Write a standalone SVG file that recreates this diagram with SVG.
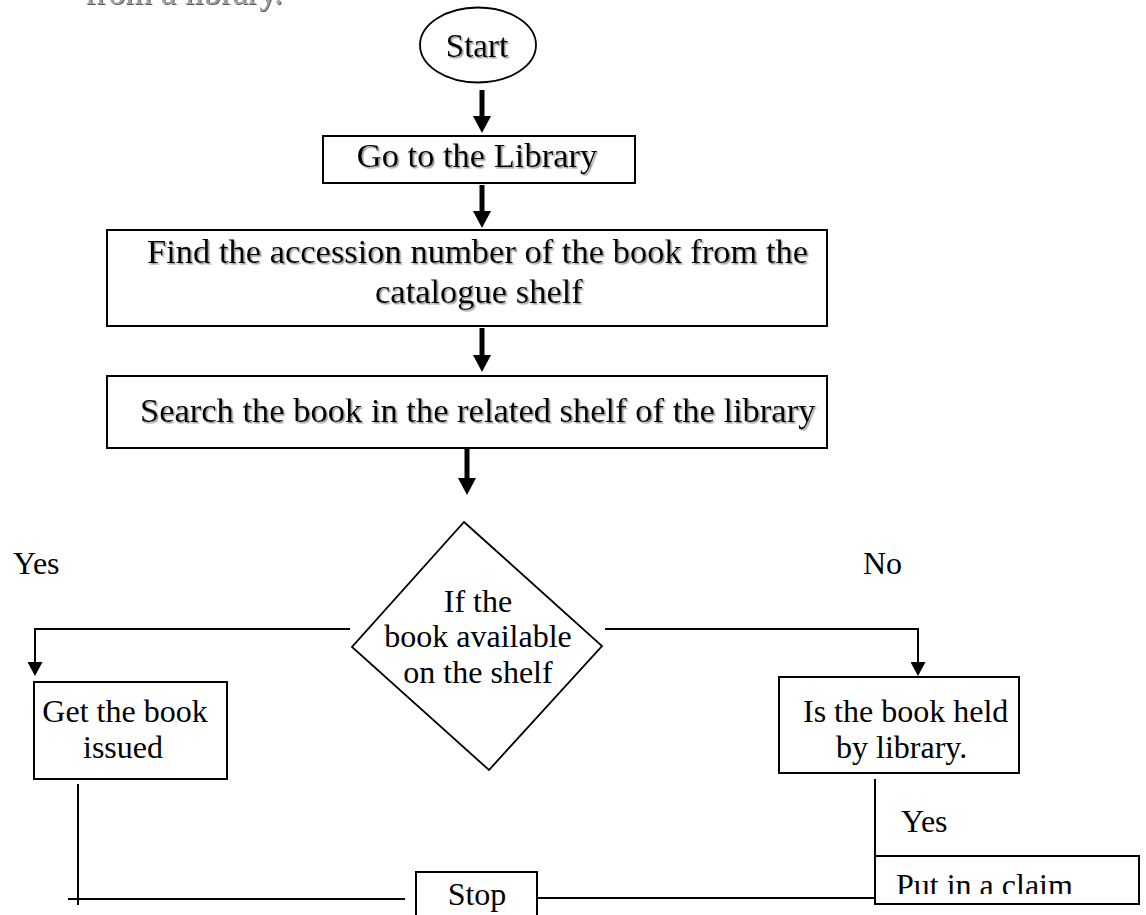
<svg xmlns="http://www.w3.org/2000/svg" width="1146" height="915" viewBox="0 0 1146 915">
<style>
.t{font-family:"Liberation Serif","Times New Roman",serif;fill:#000}
.big{font-size:34.5px}
.sm{font-size:32px}
.box{fill:#fff;stroke:#000;stroke-width:2}
.ln{fill:none;stroke:#000;stroke-width:2}
.thick{fill:none;stroke:#000;stroke-width:5}
.sh{filter:url(#shadow)}
</style>
<defs>
<filter id="shadow" x="-5%" y="-20%" width="110%" height="140%">
<feDropShadow dx="1.5" dy="1.5" stdDeviation="0.6" flood-color="#9a9a9a" flood-opacity="1"/>
</filter>
<filter id="tshadow" x="-5%" y="-50%" width="110%" height="200%">
<feDropShadow dx="1" dy="1" stdDeviation="0.5" flood-color="#333" flood-opacity="0.8"/>
</filter>
<marker id="headThick" markerUnits="userSpaceOnUse" markerWidth="17" markerHeight="18" refX="0" refY="9" orient="auto">
<path d="M0,0 L17,9 L0,18 z" fill="#000"/>
</marker>
<marker id="headThin" markerUnits="userSpaceOnUse" markerWidth="14" markerHeight="15" refX="0" refY="7.5" orient="auto">
<path d="M0,0 L14,7.5 L0,15 z" fill="#000"/>
</marker>
<clipPath id="claimClip"><rect x="875" y="856" width="266" height="38"/></clipPath>
</defs>

<text class="t big" x="85" y="4" style="fill:#a0a0a0;filter:url(#tshadow)">from a library.</text>

<g id="connectors">
<line class="thick" x1="482" y1="90" x2="482" y2="116" marker-end="url(#headThick)"/>
<line class="thick" x1="482" y1="185" x2="482" y2="211" marker-end="url(#headThick)"/>
<line class="thick" x1="482" y1="328" x2="482" y2="355" marker-end="url(#headThick)"/>
<line class="thick" x1="467" y1="448" x2="467" y2="478" marker-end="url(#headThick)"/>
<polyline class="ln" points="350,629 35,629 35,662" marker-end="url(#headThin)"/>
<polyline class="ln" points="605,629 918,629 918,662" marker-end="url(#headThin)"/>
<line class="ln" x1="78" y1="784" x2="78" y2="905"/>
<line class="ln" x1="68" y1="899" x2="405" y2="899"/>
<line class="ln" x1="538" y1="898" x2="875" y2="898"/>
<line class="ln" x1="875" y1="779" x2="875" y2="856"/>
</g>

<g id="start">
<ellipse cx="478" cy="45" rx="58" ry="37.5" fill="#fff" stroke="#000" stroke-width="1.8"/>
<text class="t sh" x="477" y="57" text-anchor="middle" style="font-size:33px">Start</text>
</g>

<g id="go">
<rect class="box" x="323" y="136" width="312" height="47"/>
<text class="t big sh" x="477" y="167" text-anchor="middle">Go to the Library</text>
</g>

<g id="find">
<rect class="box" x="107" y="230" width="720" height="96"/>
<text class="t big sh" x="147" y="263">Find the accession number of the book from the</text>
<text class="t big sh" x="375" y="303">catalogue shelf</text>
</g>

<g id="search">
<rect class="box" x="107" y="376" width="720" height="72"/>
<text class="t big sh" x="140" y="422">Search the book in the related shelf of the library</text>
</g>

<g id="decision">
<polygon points="464,522 602,646 489,770 352,647" fill="#fff" stroke="#000" stroke-width="1.8"/>
<text class="t sm" x="478" y="612" text-anchor="middle">If the</text>
<text class="t sm" x="478" y="647" text-anchor="middle">book available</text>
<text class="t sm" x="478" y="683" text-anchor="middle">on the shelf</text>
</g>

<g id="labels">
<text class="t sm" x="13" y="574">Yes</text>
<text class="t sm" x="863" y="574">No</text>
<text class="t sm" x="901" y="832">Yes</text>
</g>

<g id="issue">
<rect class="box" x="34" y="682" width="193" height="97"/>
<text class="t sm" x="125" y="722" text-anchor="middle">Get the book</text>
<text class="t sm" x="123" y="758" text-anchor="middle">issued</text>
</g>

<g id="held">
<rect class="box" x="779" y="677" width="240" height="96"/>
<text class="t sm" x="803" y="722">Is the book held</text>
<text class="t sm" x="836" y="758">by library.</text>
</g>

<g id="stop">
<rect class="box" x="416" y="872" width="121" height="60"/>
<text class="t sm" x="477" y="905" text-anchor="middle">Stop</text>
</g>

<g id="claim">
<rect class="box" x="875" y="856" width="264" height="48"/>
<text class="t sm" x="896" y="896" clip-path="url(#claimClip)">Put in a claim</text>
</g>
</svg>
